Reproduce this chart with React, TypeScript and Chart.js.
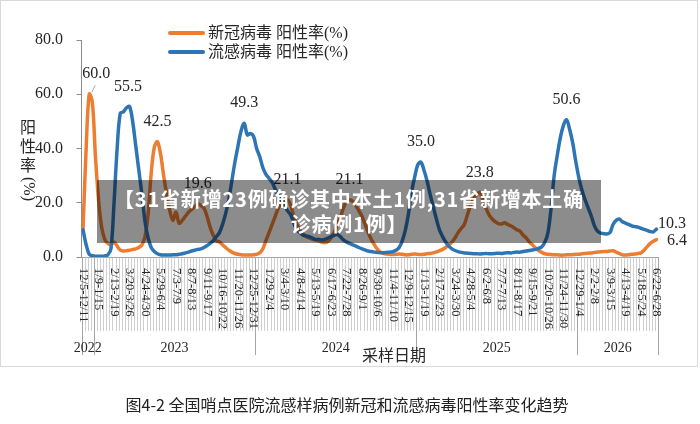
import React, { useEffect, useRef } from 'react';
import { Chart, registerables } from 'chart.js';

Chart.register(...registerables);

// ---- categories: one per sampling week, Monday to Sunday ----
const DAY = 86400000;
const FIRST_MONDAY = Date.UTC(2022, 11, 5);
const WEEK_COUNT = 186;
const md = (t: number) => {
  const d = new Date(t);
  return `${d.getUTCMonth() + 1}/${d.getUTCDate()}`;
};
const WEEKS: string[] = Array.from({ length: WEEK_COUNT }, (_, i) => {
  const s = FIRST_MONDAY + i * 7 * DAY;
  return `${md(s)}-${md(s + 6 * DAY)}`;
});

// every fifth week carries a tick label
const TICK_STEP = 5;
const TICK_LABELS = [
  '12/5-12/11', '1/9-1/15', '2/13-2/19', '3/20-3/26', '4/24-4/30', '5/29-6/4',
  '7/3-7/9', '8/7-8/13', '9/11-9/17', '10/16-10/22', '11/20-11/26', '12/25-12/31',
  '1/29-2/4', '3/4-3/10', '4/8-4/14', '5/13-5/19', '6/17-6/23', '7/22-7/28',
  '8/26-9/1', '9/30-10/6', '11/4-11/10', '12/9-12/15', '1/13-1/19', '2/17-2/23',
  '3/24-3/30', '4/28-5/4', '6/2-6/8', '7/7-7/13', '8/11-8/17', '9/15-9/21',
  '10/20-10/26', '11/24-11/30', '12/29-1/4', '2/2-2/8', '3/9-3/15', '4/13-4/19',
  '5/18-5/24', '6/22-6/28',
];

const YEARS = ['2022', '2023', '2024', '2025', '2026'];
const YEAR_FIRST_WEEK = [0, 4, 56, 108, 160];

const SERIES_NAMES = ['新冠病毒 阳性率(%)', '流感病毒 阳性率(%)'];
const SERIES_COLORS = ['#ED7D31', '#2E75B6'];

// positive rate (%), SARS-CoV-2
const COVID = [
  10.5, 40, 60.0, 57, 37, 21, 11, 6.5, 5, 4.5,
  5.5, 4, 2.5, 2.2, 2.3, 2.5, 2.8, 3, 3.5, 4.5,
  7.5, 16, 31, 40.5, 42.5, 38, 30, 23, 17, 13.5,
  16.5, 12.5, 13.5, 15, 16.5, 17.5, 18.5, 19.6, 19, 18,
  15, 11, 8, 6, 5.5, 4.5, 3.5, 2.5, 1.8, 1.3,
  1, 0.8, 0.7, 0.7, 0.7, 0.8, 1, 1.5, 3, 6,
  9, 12, 15, 18, 20, 20.5, 21.1, 19, 15, 12,
  10, 8.5, 7.5, 7, 6.5, 6.3, 6, 5.5, 5.3, 5.8,
  7, 9, 11.5, 14.5, 18, 20.5, 21.1, 20.5, 19, 17,
  15, 12, 9, 6.5, 4.5, 2.8, 1.8, 1.3, 1.1, 1,
  0.9, 1, 1.1, 1, 0.8, 0.8, 1, 1.1, 1, 0.9,
  1, 1.2, 1.3, 1.5, 1.9, 2.3, 2.8, 3.5, 4.5, 5.5,
  7, 9, 10.5, 12, 15.5, 19, 21.5, 23, 23.8, 21,
  18, 15.5, 14, 13, 12.3, 12.2, 12.6, 12, 11.5, 10.8,
  10, 9.5, 8, 7, 5.5, 4.5, 3.3, 2.4, 1.7, 1.2,
  1, 0.9, 0.8, 0.8, 0.7, 0.7, 0.8, 0.8, 0.9, 1,
  1, 1.2, 1.3, 1.4, 1.5, 1.7, 1.8, 1.9, 2, 2,
  2.2, 2.3, 1.8, 1.3, 0.8, 0.7, 0.8, 1, 1.1, 1.3,
  1.5, 2.5, 3.8, 5, 5.8, 6.4,
];

// positive rate (%), influenza
const FLU = [
  10, 4.5, 1, 0.5, 0.3, 0.3, 0.3, 0.4, 0.8, 3,
  20, 40, 53, 53.5, 55, 55.5, 50, 41, 32, 23,
  13, 7, 3.5, 2, 1.2, 0.8, 0.7, 0.7, 0.7, 0.8,
  0.8, 1, 1.2, 1.5, 1.8, 2.2, 2.5, 2.8, 3, 3.5,
  4.2, 5, 6, 7.5, 9, 12, 16, 21, 28, 35,
  41, 46.5, 49.3, 45, 45.5, 44.5, 40, 37, 33, 30.5,
  29, 27.5, 25, 22.5, 20.5, 19, 17, 15.5, 12.5, 10,
  9, 8, 7.8, 7.5, 7, 6.5, 6.5, 6.3, 6.5, 7,
  7.5, 8, 8.3, 7.5, 6.3, 5.5, 5, 4.5, 4, 3.5,
  3, 2.6, 2.2, 2, 1.8, 1.7, 1.6, 1.6, 1.7, 1.8,
  2, 2.5, 3.5, 6, 10, 16, 24, 29.5, 34, 35.0,
  32, 28, 23, 18.5, 14, 10, 7.5, 5.5, 4, 3,
  2.4, 2, 1.7, 1.5, 1.4, 1.3, 1.2, 1.2, 1.1, 1.2,
  1.3, 1.2, 1.2, 1.3, 1.4, 1.3, 1.5, 1.6, 1.5, 1.7,
  1.8, 1.8, 2, 2.2, 2.4, 2.6, 2.8, 3.2, 3.8, 5.5,
  9, 18, 30, 37.5, 44, 48.5, 50.6, 47, 42, 35,
  29, 24.5, 21, 18, 15, 11.5, 9.5, 8.8, 8.6, 8.5,
  9, 12, 13.5, 14, 13, 12.5, 12, 11.5, 11.2, 11,
  10.6, 10.2, 9.8, 9.4, 9.3, 10.3,
];

const SERIES = [COVID, FLU];

// value labels: which series / week, and where the text sits relative to the point
const VALUE_LABELS = [
  { s: 0, w: 2, dx: 7, dy: -20, leader: true },
  { s: 1, w: 15, dx: -1.5, dy: -20 },
  { s: 0, w: 24, dx: 0, dy: -20 },
  { s: 0, w: 37, dx: 0, dy: -20 },
  { s: 1, w: 52, dx: 0, dy: -20 },
  { s: 0, w: 66, dx: 0, dy: -20 },
  { s: 0, w: 86, dx: 0, dy: -20 },
  { s: 1, w: 109, dx: 0, dy: -20 },
  { s: 0, w: 128, dx: 0, dy: -20 },
  { s: 1, w: 156, dx: 0, dy: -20 },
  { s: 1, w: 185, dx: 1.5, dy: -5, left: true },
  { s: 0, w: 185, dx: 10.5, dy: 1.5, left: true },
];

const CAPTION = '图4-2 全国哨点医院流感样病例新冠和流感病毒阳性率变化趋势';
const AXIS_TITLE_X = '采样日期';
const AXIS_TITLE_Y = ['阳', '性', '率', '(%)'];
const BANNER_LINES = ['【31省新增23例确诊其中本土1例,31省新增本土确', '诊病例1例】'];

const SERIF = '"Liberation Serif", "Noto Sans CJK SC", serif';
const CJK = '"Noto Sans CJK SC", sans-serif';
const TEXT = '#262626';

const decorPlugin = {
  id: 'decor',
  afterDraw(chart: any) {
    const { ctx, chartArea: a, scales } = chart;
    const xs = scales.x;
    const step = (a.right - a.left) / WEEK_COUNT;
    const edge = (k: number) => Math.round(a.left + k * step) + 0.5;
    ctx.save();

    // outer frame
    ctx.strokeStyle = '#d9d9d9';
    ctx.lineWidth = 1;
    ctx.strokeRect(0.5, 0.5, 697, 366);

    // weekly tick lines under the category axis
    ctx.strokeStyle = '#cfcfcf';
    ctx.beginPath();
    for (let k = 0; k <= WEEK_COUNT; k++) {
      const px = edge(k);
      ctx.moveTo(px, a.bottom);
      ctx.lineTo(px, a.bottom + 74);
    }
    ctx.stroke();

    // year separators
    const bounds = [...YEAR_FIRST_WEEK, WEEK_COUNT];
    ctx.strokeStyle = '#a6a6a6';
    ctx.beginPath();
    bounds.forEach((k) => {
      const px = edge(k);
      ctx.moveTo(px, a.bottom);
      ctx.lineTo(px, a.bottom + 98);
    });
    ctx.stroke();

    // category axis line
    ctx.strokeStyle = '#a6a6a6';
    ctx.beginPath();
    ctx.moveTo(a.left, Math.round(a.bottom) + 0.5);
    ctx.lineTo(a.right, Math.round(a.bottom) + 0.5);
    ctx.stroke();

    // rotated week labels
    ctx.fillStyle = TEXT;
    ctx.font = `12.5px ${SERIF}`;
    ctx.textAlign = 'left';
    ctx.textBaseline = 'middle';
    TICK_LABELS.forEach((lab, j) => {
      const px = xs.getPixelForValue(j * TICK_STEP);
      ctx.save();
      ctx.translate(px, a.bottom + 11);
      ctx.rotate(Math.PI / 2);
      ctx.fillText(lab, 0, 0);
      ctx.restore();
    });

    // year labels
    ctx.font = `14px ${SERIF}`;
    ctx.textAlign = 'center';
    YEARS.forEach((yr, j) => {
      const cx = (a.left + bounds[j] * step + a.left + bounds[j + 1] * step) / 2;
      ctx.fillText(yr, cx, a.bottom + 91);
    });

    // axis titles
    ctx.font = `16px ${SERIF}`;
    ctx.fillText(AXIS_TITLE_X, a.left + 312.5, a.bottom + 100);
    AXIS_TITLE_Y.slice(0, 3).forEach((ch, j) => ctx.fillText(ch, 28, 129 + j * 19));
    ctx.save();
    ctx.translate(28, 189);
    ctx.rotate(Math.PI / 2);
    ctx.fillText(AXIS_TITLE_Y[3], 0, 0);
    ctx.restore();

    // legend
    SERIES_NAMES.forEach((name, j) => {
      const ly = 33 + j * 19;
      ctx.strokeStyle = SERIES_COLORS[j];
      ctx.lineWidth = 4;
      ctx.lineCap = 'round';
      ctx.beginPath();
      ctx.moveTo(170, ly);
      ctx.lineTo(203, ly);
      ctx.stroke();
      ctx.fillStyle = TEXT;
      ctx.textAlign = 'left';
      ctx.fillText(name, 208, ly + 0.5);
    });

    // value labels
    ctx.font = `16px ${SERIF}`;
    ctx.fillStyle = TEXT;
    VALUE_LABELS.forEach((l: any) => {
      const pt = chart.getDatasetMeta(l.s).data[l.w];
      const text = SERIES[l.s][l.w].toFixed(1);
      ctx.textAlign = l.left ? 'left' : 'center';
      ctx.fillText(text, pt.x + l.dx, pt.y + l.dy);
      if (l.leader) {
        ctx.strokeStyle = '#a6a6a6';
        ctx.lineWidth = 1;
        ctx.beginPath();
        ctx.moveTo(pt.x + 5.75, pt.y - 8.5);
        ctx.lineTo(pt.x + 2.75, pt.y - 2.5);
        ctx.stroke();
      }
    });

    // caption
    ctx.font = `16px ${CJK}`;
    ctx.textAlign = 'center';
    ctx.fillStyle = '#222';
    ctx.fillText(CAPTION, 347, 405);

    // headline banner across the plot
    ctx.fillStyle = 'rgba(0,0,0,0.45)';
    ctx.fillRect(97, 180, 504, 63);
    ctx.fillStyle = '#ffffff';
    ctx.font = `bold 20px ${CJK}`;
    (ctx as any).letterSpacing = '0.8px';
    ctx.fillText(BANNER_LINES[0], 349, 199);
    ctx.fillText(BANNER_LINES[1], 349, 224);
    (ctx as any).letterSpacing = '0px';

    ctx.restore();
  },
};

export default function App() {
  const ref = useRef<HTMLCanvasElement | null>(null);

  useEffect(() => {
    document.body.style.margin = '0';
    const canvas = ref.current;
    if (!canvas) return;
    const chart = new Chart(canvas, {
      type: 'line',
      data: {
        labels: WEEKS,
        datasets: [
          {
            label: SERIES_NAMES[0],
            data: COVID,
            borderColor: SERIES_COLORS[0],
            borderWidth: 3.5,
            pointRadius: 0,
            tension: 0.35,
            order: 1,
          },
          {
            label: SERIES_NAMES[1],
            data: FLU,
            borderColor: SERIES_COLORS[1],
            borderWidth: 3.5,
            pointRadius: 0,
            tension: 0.35,
            order: 0,
          },
        ],
      },
      options: {
        animation: false,
        responsive: false,
        maintainAspectRatio: false,
        layout: { padding: { left: 0, right: 42, top: 40, bottom: 167 } },
        plugins: {
          legend: { display: false },
          tooltip: { enabled: false },
        },
        elements: { line: { borderJoinStyle: 'round', borderCapStyle: 'round' } },
        scales: {
          x: { type: 'category', offset: true, display: false },
          y: {
            min: 0,
            max: 80,
            ticks: {
              stepSize: 20,
              padding: 13.5,
              color: TEXT,
              font: { family: SERIF, size: 16 },
              callback: (v: any) => Number(v).toFixed(1),
            },
            grid: { drawOnChartArea: false, tickLength: 5, color: '#8c8c8c' },
            border: { display: true, color: '#8c8c8c', width: 1 },
            afterFit: (s: any) => {
              s.width = 81.5;
            },
          },
        },
      },
      plugins: [decorPlugin],
    });
    return () => chart.destroy();
  }, []);

  return <canvas ref={ref} width={700} height={424} style={{ display: 'block' }} />;
}
